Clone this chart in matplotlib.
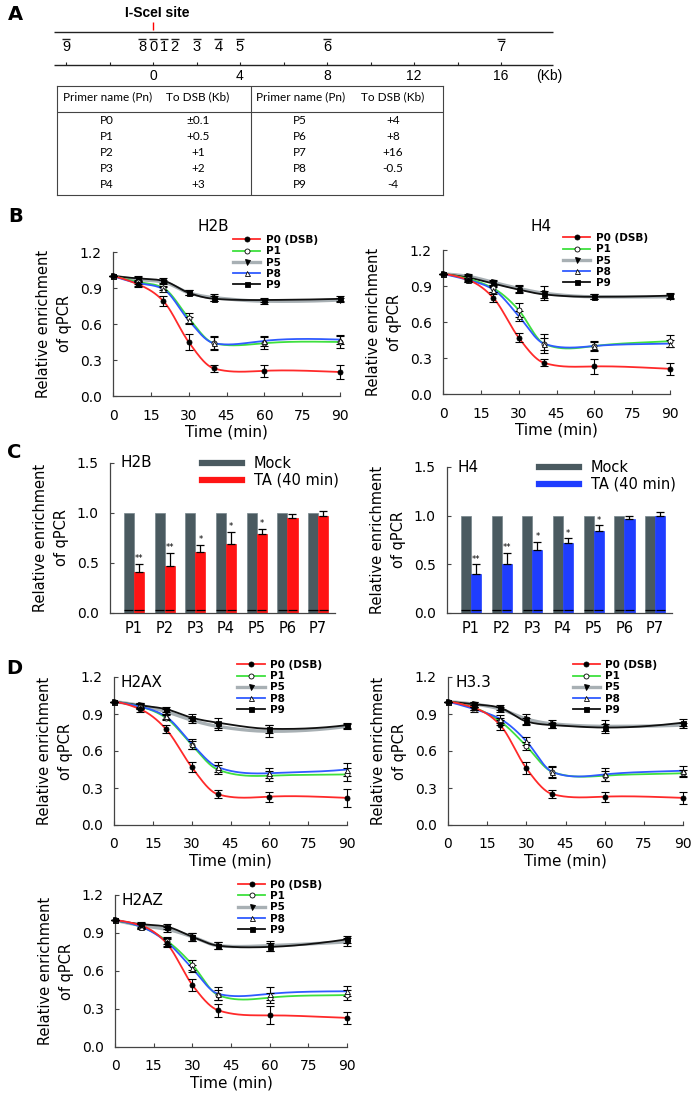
import numpy as np
import matplotlib
matplotlib.use('Agg')
import matplotlib.pyplot as plt
from matplotlib.lines import Line2D

# ---- panel A: primer map + table
primer_names = ['9', '8', '0', '1', '2', '3', '4', '5', '6', '7']
primer_kb = [-4, -0.5, 0, 0.5, 1, 2, 3, 4, 8, 16]
kb_ticks = [-4, -2, 0, 2, 4, 6, 8, 10, 12, 14, 16]
kb_labels = [0, 4, 8, 12, 16]

tab_header = ['Primer name (Pn)', 'To DSB (Kb)', 'Primer name (Pn)', 'To DSB (Kb)']
tab_left_names = ['P0', 'P1', 'P2', 'P3', 'P4']
tab_left_dist = ['\u00b10.1', '+0.5', '+1', '+2', '+3']
tab_right_names = ['P5', 'P6', 'P7', 'P8', 'P9']
tab_right_dist = ['+4', '+8', '+16', '-0.5', '-4']

# ---- time courses (rows: P0, P1, P5, P8, P9)
times = [0, 10, 20, 30, 40, 60, 90]
series = ['P0 (DSB)', 'P1', 'P5', 'P8', 'P9']

h2b_vals = [[1.0, 0.93, 0.79, 0.45, 0.23, 0.21, 0.20],
            [1.0, 0.95, 0.90, 0.65, 0.44, 0.44, 0.45],
            [1.0, 0.97, 0.95, 0.86, 0.82, 0.79, 0.80],
            [1.0, 0.94, 0.89, 0.63, 0.44, 0.46, 0.47],
            [1.0, 0.98, 0.96, 0.86, 0.81, 0.80, 0.81]]
h2b_errs = [[0, 0.02, 0.04, 0.07, 0.03, 0.05, 0.06],
            [0, 0.02, 0.02, 0.04, 0.06, 0.05, 0.05],
            [0, 0.02, 0.02, 0.02, 0.03, 0.02, 0.02],
            [0, 0.02, 0.02, 0.03, 0.05, 0.04, 0.04],
            [0, 0.02, 0.02, 0.02, 0.02, 0.02, 0.02]]

h4_vals = [[1.0, 0.95, 0.80, 0.47, 0.26, 0.23, 0.21],
           [1.0, 0.96, 0.88, 0.70, 0.42, 0.40, 0.44],
           [1.0, 0.98, 0.93, 0.88, 0.84, 0.81, 0.81],
           [1.0, 0.95, 0.87, 0.65, 0.42, 0.40, 0.42],
           [1.0, 0.97, 0.92, 0.87, 0.83, 0.81, 0.82]]
h4_errs = [[0, 0.02, 0.03, 0.04, 0.03, 0.06, 0.05],
           [0, 0.02, 0.03, 0.06, 0.08, 0.04, 0.05],
           [0, 0.02, 0.02, 0.03, 0.06, 0.02, 0.02],
           [0, 0.02, 0.02, 0.04, 0.05, 0.03, 0.03],
           [0, 0.02, 0.02, 0.03, 0.03, 0.02, 0.02]]

h2ax_vals = [[1.0, 0.94, 0.78, 0.47, 0.25, 0.23, 0.22],
             [1.0, 0.96, 0.87, 0.65, 0.45, 0.40, 0.41],
             [1.0, 0.97, 0.92, 0.85, 0.80, 0.76, 0.80],
             [1.0, 0.96, 0.88, 0.66, 0.47, 0.42, 0.45],
             [1.0, 0.97, 0.94, 0.87, 0.83, 0.78, 0.81]]
h2ax_errs = [[0, 0.02, 0.03, 0.04, 0.03, 0.04, 0.07],
             [0, 0.02, 0.02, 0.03, 0.04, 0.04, 0.05],
             [0, 0.02, 0.02, 0.02, 0.03, 0.05, 0.02],
             [0, 0.02, 0.02, 0.04, 0.04, 0.04, 0.05],
             [0, 0.02, 0.02, 0.03, 0.04, 0.03, 0.02]]

h33_vals = [[1.0, 0.95, 0.81, 0.46, 0.25, 0.23, 0.22],
            [1.0, 0.95, 0.84, 0.64, 0.43, 0.40, 0.42],
            [1.0, 0.98, 0.94, 0.86, 0.82, 0.80, 0.81],
            [1.0, 0.94, 0.86, 0.68, 0.43, 0.41, 0.44],
            [1.0, 0.98, 0.95, 0.84, 0.81, 0.79, 0.83]]
h33_errs = [[0, 0.02, 0.04, 0.05, 0.03, 0.04, 0.05],
            [0, 0.02, 0.03, 0.03, 0.04, 0.04, 0.03],
            [0, 0.02, 0.02, 0.04, 0.03, 0.05, 0.02],
            [0, 0.02, 0.03, 0.03, 0.05, 0.05, 0.04],
            [0, 0.02, 0.02, 0.03, 0.02, 0.03, 0.03]]

h2az_vals = [[1.0, 0.96, 0.82, 0.49, 0.29, 0.25, 0.23],
             [1.0, 0.95, 0.84, 0.65, 0.41, 0.39, 0.41],
             [1.0, 0.96, 0.93, 0.87, 0.80, 0.80, 0.83],
             [1.0, 0.95, 0.83, 0.62, 0.42, 0.42, 0.44],
             [1.0, 0.97, 0.95, 0.87, 0.80, 0.79, 0.85]]
h2az_errs = [[0, 0.02, 0.03, 0.05, 0.05, 0.07, 0.05],
             [0, 0.02, 0.03, 0.04, 0.04, 0.04, 0.04],
             [0, 0.02, 0.02, 0.03, 0.03, 0.04, 0.03],
             [0, 0.02, 0.03, 0.03, 0.05, 0.05, 0.04],
             [0, 0.02, 0.02, 0.03, 0.03, 0.03, 0.03]]

# ---- panel C bars
bar_labels = ['P1', 'P2', 'P3', 'P4', 'P5', 'P6', 'P7']
mock_vals = [1.0, 1.0, 1.0, 1.0, 1.0, 1.0, 1.0]
h2b_ta = [0.41, 0.47, 0.61, 0.69, 0.79, 0.95, 0.97]
h2b_ta_err = [0.08, 0.13, 0.07, 0.12, 0.05, 0.04, 0.05]
h4_ta = [0.40, 0.50, 0.65, 0.72, 0.84, 0.97, 1.00]
h4_ta_err = [0.10, 0.12, 0.08, 0.05, 0.06, 0.03, 0.04]
signif = ['**', '**', '*', '*', '*', '', '']

colors = ['#ff2a2a', '#3ee03e', '#a8b0b4', '#2f5bff', '#111111']
lws = [1.3, 1.3, 2.4, 1.3, 1.3]
markers = ['o', 'o', 'v', '^', 's']
mfcs = ['k', 'white', 'k', 'white', 'k']
mock_color = '#4a5a60'
spine_col = '#444444'

W, H = 694, 1093
fig = plt.figure(figsize=(W / 100, H / 100), dpi=100)


def px_axes(l, t, r, b):
    return fig.add_axes([l / W, 1 - b / H, (r - l) / W, (b - t) / H])


def natural_spline(x, y, xs):
    n = len(x)
    h = np.diff(x)
    A = np.zeros((n, n))
    r = np.zeros(n)
    A[0, 0] = A[-1, -1] = 1.0
    for i in range(1, n - 1):
        A[i, i - 1] = h[i - 1]
        A[i, i] = 2 * (h[i - 1] + h[i])
        A[i, i + 1] = h[i]
        r[i] = 3 * ((y[i + 1] - y[i]) / h[i] - (y[i] - y[i - 1]) / h[i - 1])
    c = np.linalg.solve(A, r)
    b = (y[1:] - y[:-1]) / h - h * (2 * c[:-1] + c[1:]) / 3
    d = (c[1:] - c[:-1]) / (3 * h)
    k = np.clip(np.searchsorted(x, xs) - 1, 0, n - 2)
    dx = xs - x[k]
    return y[k] + b[k] * dx + c[k] * dx ** 2 + d[k] * dx ** 3


def pchip(x, y, xs):
    n = len(x)
    h = np.diff(x)
    delta = np.diff(y) / h
    d = np.zeros(n)
    for k in range(1, n - 1):
        if delta[k - 1] * delta[k] > 0:
            w1 = 2 * h[k] + h[k - 1]
            w2 = h[k] + 2 * h[k - 1]
            d[k] = (w1 + w2) / (w1 / delta[k - 1] + w2 / delta[k])
    for k, (h0, h1, d0, d1) in [(0, (h[0], h[1], delta[0], delta[1])),
                                (n - 1, (h[-1], h[-2], delta[-1], delta[-2]))]:
        v = ((2 * h0 + h1) * d0 - h0 * d1) / (h0 + h1)
        if np.sign(v) != np.sign(d0):
            v = 0.0
        elif np.sign(d0) != np.sign(d1) and abs(v) > abs(3 * d0):
            v = 3 * d0
        d[k] = v
    k = np.clip(np.searchsorted(x, xs) - 1, 0, n - 2)
    t = (xs - x[k]) / h[k]
    h00 = 2 * t ** 3 - 3 * t ** 2 + 1
    h10 = t ** 3 - 2 * t ** 2 + t
    h01 = -2 * t ** 3 + 3 * t ** 2
    h11 = t ** 3 - t ** 2
    return h00 * y[k] + h10 * h[k] * d[k] + h01 * y[k + 1] + h11 * h[k] * d[k + 1]


def smooth_curve(x, y, num=300):
    # smooth curve through the measured points (mix of monotone and natural spline)
    x = np.asarray(x, float)
    y = np.asarray(y, float)
    xs = np.linspace(x[0], x[-1], num)
    return xs, 0.6 * pchip(x, y, xs) + 0.4 * natural_spline(x, y, xs)


def style_axes(ax):
    for s in ['top', 'right']:
        ax.spines[s].set_visible(False)
    for s in ['left', 'bottom']:
        ax.spines[s].set_color(spine_col)
        ax.spines[s].set_linewidth(0.9)
    ax.tick_params(direction='in', length=3, width=0.8, colors=spine_col,
                   labelcolor='black', labelsize=10)
    ax.tick_params(axis='y', pad=8)
    ax.tick_params(axis='x', pad=9)
    ax.set_ylabel('Relative enrichment\nof qPCR', fontsize=10.5, labelpad=6,
                  linespacing=1.5)


def line_panel(ax, vals, errs, title, inside, leg_top, title_x=0.44, title_y=1.17):
    order = [2, 4, 1, 3, 0]
    for i in order:
        xs, ys = smooth_curve(times, vals[i])
        ax.plot(xs, ys, color=colors[i], lw=lws[i], zorder=2, clip_on=False)
    for i in order:
        eb = ax.errorbar(times, vals[i], yerr=errs[i], fmt='none', ecolor='k',
                         elinewidth=0.8, capsize=2.6, capthick=0.8, zorder=3)
        for art in list(eb.lines[1]) + list(eb.lines[2]):
            art.set_clip_on(False)
        ax.plot(times, vals[i], ls='none', marker=markers[i], ms=3.6, mfc=mfcs[i],
                mec='k', mew=0.6, zorder=4, clip_on=False)
    ax.set_xlim(0, 90)
    ax.set_ylim(0, 1.2)
    ax.set_xticks(np.arange(0, 91, 15))
    ax.set_yticks(np.arange(0, 1.21, 0.3))
    ax.set_yticklabels(['%.1f' % v for v in np.arange(0, 1.21, 0.3)])
    style_axes(ax)
    ax.set_xlabel('Time (min)', fontsize=11, labelpad=1.5)
    if inside:
        ax.text(0.03, 0.965, title, transform=ax.transAxes, ha='left', va='center',
                fontsize=11)
    else:
        ax.text(title_x, title_y, title, transform=ax.transAxes, ha='center',
                va='center', fontsize=11)
    handles = [Line2D([0], [0], color=colors[i], lw=lws[i], marker=markers[i], ms=3.6,
                      mfc=mfcs[i], mec='k', mew=0.6) for i in range(5)]
    ax.legend(handles, series, loc='upper left', bbox_to_anchor=(0.53, leg_top),
              frameon=False, prop=dict(weight='bold', size=7.5), handlelength=2.6,
              handletextpad=0.5, labelspacing=0.12, borderaxespad=0, borderpad=0)


def bar_panel(ax, ta, ta_err, ta_color, title):
    x = np.arange(len(bar_labels))
    w = 0.33
    ax.bar(x - w / 2, mock_vals, w, color=mock_color, edgecolor='#75858b', lw=0.5)
    ax.bar(x + w / 2, ta, w, color=ta_color, edgecolor=ta_color, lw=0.5)
    ax.errorbar(x + w / 2, ta, yerr=[np.zeros(len(ta)), ta_err], fmt='none',
                ecolor='k', elinewidth=0.9, capsize=3.2, capthick=0.9)
    # thin dark marks at the base of every bar
    base = np.full(len(x), 0.03)
    ax.hlines(base, x - w * 0.95, x - w * 0.05, color='k', lw=0.9)
    ax.hlines(base, x + w * 0.05, x + w * 0.95, color='k', lw=0.9)
    tops = np.array(ta) + np.array(ta_err)
    for xi, top, s in zip(x, tops, signif):
        ax.text(xi + w / 2, top + 0.005, s, ha='center', va='bottom', fontsize=6)
    ax.set_xlim(-0.78, 6.55)
    ax.set_ylim(0, 1.5)
    ax.set_xticks(x)
    ax.set_xticklabels(bar_labels)
    ax.set_yticks([0, 0.5, 1.0, 1.5])
    ax.set_yticklabels(['0.0', '0.5', '1.0', '1.5'])
    style_axes(ax)
    ax.tick_params(axis='x', length=0, labelsize=10.5, pad=6)
    ax.text(0.045, 1.0, title, transform=ax.transAxes, ha='left', va='center',
            fontsize=11)
    handles = [Line2D([0], [0], color=mock_color, lw=4.5),
               Line2D([0], [0], color=ta_color, lw=4.5)]
    ax.legend(handles, ['Mock', 'TA (40 min)'], loc='upper left',
              bbox_to_anchor=(0.41, 1.045), frameon=False, fontsize=10.5,
              handlelength=2.75, handletextpad=0.8, labelspacing=0.1,
              borderaxespad=0, borderpad=0)


# ---------------- panel A
narrow = ['Liberation Sans Narrow', 'Liberation Sans', 'DejaVu Sans']
kb0_px, px_per_kb = 153, 21.75
map_ax = fig.add_axes([0, 1 - 84 / H, 1, 84 / H])
map_ax.set_xlim(-kb0_px / px_per_kb, (W - kb0_px) / px_per_kb)
map_ax.set_ylim(84, 0)
map_ax.axis('off')
line_l, line_r = -4.55, 18.4
map_ax.hlines([32, 65], line_l, line_r, color='#222222', lw=1.0)
map_ax.vlines(kb_ticks, 61.5, 65, color='#222222', lw=0.8)
for v in kb_labels:
    map_ax.text(v, 76, str(v), ha='center', va='center', fontsize=10, family=narrow)
map_ax.text(18.2, 76, '(Kb)', ha='center', va='center', fontsize=10, family=narrow)
map_ax.vlines(0, 22, 30, color='red', lw=1.0)
map_ax.text(0.2, 13, 'I-SceI site', ha='center', va='center', fontsize=10,
            weight='bold', family=narrow)
map_ax.plot(primer_kb, [38.5] * len(primer_kb), ls='none', marker='_', ms=6,
            mew=1.0, color='#222222')
for name, kb in zip(primer_names, primer_kb):
    map_ax.text(kb, 47, name, ha='center', va='center', fontsize=10.5, family=narrow)

tab_ax = px_axes(57, 86, 443, 195)
tab_ax.set_xlim(0, 1)
tab_ax.set_ylim(1, 0)
tab_ax.set_xticks([])
tab_ax.set_yticks([])
for s in tab_ax.spines.values():
    s.set_color(spine_col)
    s.set_linewidth(0.8)
col_x = [0.13, 0.365, 0.63, 0.87]
head_h = 0.24
tab_ax.axhline(head_h, color=spine_col, lw=0.8)
tab_ax.axvline(0.503, color=spine_col, lw=0.8)
tfont = ['Lato', 'DejaVu Sans']
for cx, txt in zip(col_x, tab_header):
    tab_ax.text(cx, 0.10, txt, ha='center', va='center', fontsize=8.5, family=tfont)
row_h = (1 - head_h - 0.02) / 5
for j in range(5):
    ry = head_h + (j + 0.5) * row_h
    row = [tab_left_names[j], tab_left_dist[j], tab_right_names[j], tab_right_dist[j]]
    for cx, txt in zip(col_x, row):
        tab_ax.text(cx, ry, txt, ha='center', va='center', fontsize=8.5, family=tfont)

# ---------------- panel B
axB1 = px_axes(113, 252, 340, 396)
line_panel(axB1, h2b_vals, h2b_errs, 'H2B', False, 1.118, 0.44, 1.174)
axB2 = px_axes(443, 250, 670, 394)
line_panel(axB2, h4_vals, h4_errs, 'H4', False, 1.118, 0.43, 1.16)

# ---------------- panel C
axC1 = px_axes(110, 463, 335, 613)
bar_panel(axC1, h2b_ta, h2b_ta_err, '#ff1414', 'H2B')
axC2 = px_axes(447, 467, 672, 613)
bar_panel(axC2, h4_ta, h4_ta_err, '#1f3dff', 'H4')

# ---------------- panel D
axD1 = px_axes(114, 677, 347, 825)
line_panel(axD1, h2ax_vals, h2ax_errs, 'H2AX', True, 1.115)
axD2 = px_axes(448, 677, 683, 825)
line_panel(axD2, h33_vals, h33_errs, 'H3.3', True, 1.115)
axD3 = px_axes(115, 895, 347, 1047)
line_panel(axD3, h2az_vals, h2az_errs, 'H2AZ', True, 1.10)

for letter, (lx, ly) in zip('ABCD', [(8, 14), (8, 217), (7, 453), (6, 668)]):
    fig.text(lx / W, 1 - ly / H, letter, ha='left', va='center', fontsize=14,
             weight='bold')

fig.savefig('out.png', dpi=100)
